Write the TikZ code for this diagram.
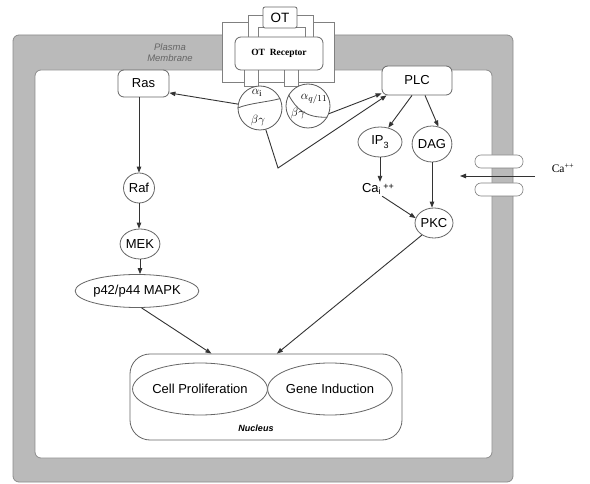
\documentclass[tikz,border=0pt]{standalone}
\usepackage{fontspec}
\setmainfont{Liberation Serif}
\setsansfont{Liberation Sans}
\usetikzlibrary{%
  arrows.meta,%
  shapes.geometric,% wg. ellipse
  positioning,%
  calc
}

\begin{document}
\begin{tikzpicture}
  [
  x=1pt, y=-1pt, line width=0.8pt,
  font=\sffamily\fontsize{13}{15}\selectfont,
  box/.style={rectangle, rounded corners=6pt, draw=black!60, fill=white, inner sep=0pt},
  oval/.style={ellipse, draw=black!60, fill=white, inner sep=0pt},
  frame/.style={draw=black!50, fill=white, line width=0.6pt},
  gprot/.style={circle, draw=black!65, fill=white, minimum size=44pt, inner sep=0pt},
  greek/.style={font=\fontsize{13}{15}\selectfont, inner sep=0pt},
  link/.style={-{Triangle[length=6pt,width=4.5pt]}, draw=black!80, line width=0.9pt}
  ]
\useasboundingbox (0,0) rectangle (590,484);

% plasma membrane
\draw[rounded corners=6pt, draw=black!45, fill=black!27] (13,35) rectangle (513,482);
\draw[rounded corners=6pt, draw=black!45, fill=white] (35,70) rectangle (492,458);
\node[align=center, text=black!60, font=\sffamily\itshape\fontsize{9.5}{11}\selectfont] (memb) at (170,53) {Plasma\\Membrane};

% receptor in the membrane
\draw[frame] (222,22) rectangle (334,82);
\draw[frame] (248,15) rectangle (313,50);
\draw[frame] (258,27) rectangle (305,50);
\draw[frame] (244,68) rectangle (258,86);
\draw[frame] (284,68) rectangle (298,86);
\node[box, rounded corners=2pt, minimum width=34pt, minimum height=21pt, font=\sffamily\fontsize{13.5}{15}\selectfont] (ot) at (280,17.5) {OT};
\node[box, minimum width=88pt, minimum height=33pt, font=\rmfamily\bfseries\fontsize{9.5}{11}\selectfont] (rec) at (279,53.5) {OT\enspace Receptor};

% G proteins
\node[gprot] (gi) at (260,108) {};
\node[gprot] (gq) at (308,106) {};
\draw[black!65] (gi.180) .. controls (250,103) and (268,102) .. (gi.25);
\draw[black!65] (gq.150) .. controls (296,109) and (306,118) .. (gq.-30);
\node[greek] (ai) at (257,93) {$\alpha_{\mathrm{i}}$};
\node[greek] (bgi) at (258,121) {$\beta\gamma$};
\node[greek] (aq) at (314,99) {$\alpha_{q/11}$};
\node[greek] (bgq) at (298,114) {$\beta\gamma$};

% MAPK branch
\node[box, minimum width=51pt, minimum height=27pt] (ras) at (143.5,83.5) {Ras};
\node[oval, minimum width=31pt, minimum height=30pt] (raf) at (139,188) {Raf};
\node[oval, minimum width=36pt, minimum height=30pt] (mek) at (140,244) {MEK};
\node[oval, minimum width=116pt, minimum height=33pt] (mapk) at (137,291) {p42/p44 MAPK};

% PLC branch
\node[box, minimum width=70pt, minimum height=29pt] (plc) at (417,80.5) {PLC};
\node[oval, minimum width=44pt, minimum height=30pt] (ip3) at (380,142) {IP\raisebox{-0.6ex}{\fontsize{9}{10}\selectfont 3}};
\node[oval, minimum width=34pt, minimum height=36pt] (dag) at (432,144) {DAG};
\node[inner sep=1pt] (cai) at (378,189) {Ca\textsubscript{i}\,\raisebox{0.4ex}{\fontsize{9}{10}\selectfont ++}};
\node[oval, minimum width=38pt, minimum height=30pt] (pkc) at (434,223) {PKC};

% calcium channel
\draw[rounded corners=6pt, frame] (475,155) rectangle (523,168);
\draw[rounded corners=6pt, frame] (475,183) rectangle (523,196);
\node[font=\rmfamily\fontsize{11.5}{13}\selectfont] (ca) at (563,168) {Ca\textsuperscript{++}};
\coordinate (caout) at (535,176);
\coordinate (cain) at (460,176);

% nucleus
\node[draw=black!60, rounded corners=20pt, minimum width=272pt, minimum height=86pt] (nuc) at (266,397) {};
\node[oval, minimum width=116pt, minimum height=52pt] (prolif) at (200,389) {Cell Proliferation};
\node[oval, minimum width=116pt, minimum height=52pt] (gene) at (330,389) {Gene Induction};
\node[font=\sffamily\bfseries\itshape\fontsize{9}{10}\selectfont] (nucl) at (256,428) {Nucleus};

% signalling arrows
\draw[link] (gi.170) -- (ras.-20);
\draw[link] (gq.-20) -- (plc.200);
\coordinate (bend) at (278,168);
\draw[link] (gi.-75) -- (bend) -- ([xshift=5pt]plc.south west);
\draw[link] (ras.south -| raf.north) -- (raf.north);
\draw[link] (raf.south) -- (raf.south |- mek.north);
\draw[link] (mek.south) -- (mek.south |- mapk.north);
\draw[link] ([xshift=-5pt]plc.south) -- (ip3.60);
\draw[link] ([xshift=8pt]plc.south) -- (dag.70);
\draw[link] (ip3.south) -- (ip3.south |- cai.north);
\draw[link] (dag.south) -- (dag.south |- pkc.north);
\draw[link] (cai.-60) -- (pkc.165);
\draw[link] (caout) -- (cain);
\draw[link] (mapk.-75) -- ($(nuc.north west)!0.3!(nuc.north east)$);
\draw[link] (pkc.225) -- ($(nuc.north west)!0.54!(nuc.north east)$);
\end{tikzpicture}
\end{document}
